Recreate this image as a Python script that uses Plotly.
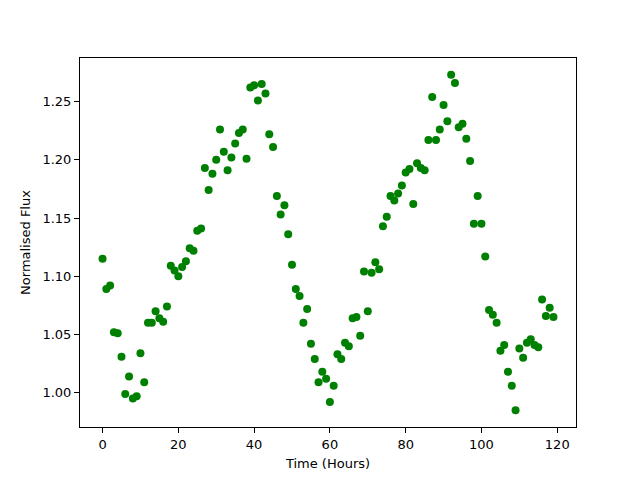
import plotly.graph_objects as go

hours = list(range(120))
flux = [
    1.115, 1.089, 1.092, 1.052, 1.051, 1.031, 0.999, 1.014, 0.995, 0.997,
    1.034, 1.009, 1.060, 1.060, 1.070, 1.064, 1.061, 1.074, 1.109, 1.105,
    1.100, 1.108, 1.113, 1.124, 1.122, 1.139, 1.141, 1.193, 1.174, 1.188,
    1.200, 1.226, 1.207, 1.191, 1.202, 1.214, 1.223, 1.226, 1.201, 1.262,
    1.264, 1.251, 1.265, 1.257, 1.222, 1.211, 1.169, 1.153, 1.161, 1.136,
    1.110, 1.089, 1.083, 1.060, 1.072, 1.042, 1.029, 1.009, 1.018, 1.012,
    0.992, 1.006, 1.033, 1.029, 1.043, 1.040, 1.064, 1.065, 1.049, 1.104,
    1.070, 1.103, 1.112, 1.106, 1.143, 1.151, 1.169, 1.165, 1.171, 1.178,
    1.189, 1.192, 1.162, 1.197, 1.193, 1.191, 1.217, 1.254, 1.217, 1.226,
    1.247, 1.233, 1.273, 1.266, 1.228, 1.231, 1.218, 1.199, 1.145, 1.169,
    1.145, 1.117, 1.071, 1.067, 1.060, 1.036, 1.041, 1.018, 1.006, 0.985,
    1.038, 1.030, 1.043, 1.046, 1.041, 1.039, 1.080, 1.066, 1.073, 1.065,
]
x_ticks = [0, 20, 40, 60, 80, 100, 120]
y_ticks = [1.00, 1.05, 1.10, 1.15, 1.20, 1.25]

xmin, xmax = min(hours), max(hours)
ymin, ymax = min(flux), max(flux)
xpad = (xmax - xmin) * 0.05
ypad = (ymax - ymin) * 0.05

fig = go.Figure(go.Scatter(
    x=hours, y=flux, mode="markers",
    marker=dict(color="#008000", size=8, line=dict(width=0)),
))

axis_common = dict(
    showgrid=False, zeroline=False, showline=True, linecolor="black",
    linewidth=1, mirror=True, ticks="outside", ticklen=5, tickwidth=1,
    tickcolor="black", automargin=False,
    tickfont=dict(family="DejaVu Sans", size=13, color="black"),
)
fig.update_xaxes(
    range=[xmin - xpad, xmax + xpad], tickvals=x_ticks,
    title=dict(text="Time (Hours)", font=dict(family="DejaVu Sans", size=13, color="black"), standoff=8),
    **axis_common,
)
fig.update_yaxes(
    range=[ymin - ypad, ymax + ypad], tickvals=y_ticks, tickformat=".2f",
    title=dict(text="Normalised Flux", font=dict(family="DejaVu Sans", size=13, color="black"), standoff=8),
    **axis_common,
)
fig.update_layout(
    width=632, height=472,
    margin=dict(l=72, r=64, t=50, b=53),
    paper_bgcolor="white", plot_bgcolor="white",
    showlegend=False,
)
fig.write_html("out.html")
